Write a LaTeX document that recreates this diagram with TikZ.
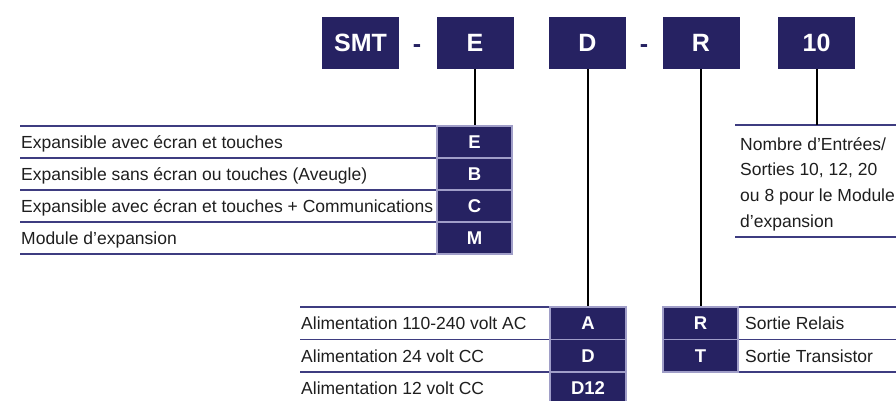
\documentclass[tikz,border=0pt]{standalone}
\usepackage{fontspec}
\setmainfont{Liberation Sans}
\definecolor{navy}{RGB}{38,34,98}
\definecolor{rulec}{RGB}{62,60,128}
\definecolor{lav}{RGB}{160,158,200}
\definecolor{txt}{RGB}{30,30,30}
\tikzset{
  topbox/.style={fill=navy, text=white, minimum width=77pt, minimum height=52pt, inner sep=0pt,
    font=\fontsize{25}{25}\selectfont\bfseries, text height=17.9pt, text depth=0pt},
  cell/.style={fill=navy, draw=lav, line width=1.2pt, text=white, minimum width=75pt,
    minimum height=32pt, inner sep=0pt, font=\fontsize{18.5}{18.5}\selectfont\bfseries,
    text height=13.2pt, text depth=0pt},
  lbl/.style={anchor=base west, inner sep=0pt, text=txt, font=\fontsize{17.5}{21}\selectfont},
  dashlbl/.style={anchor=base, inner sep=0pt, text=navy, font=\fontsize{25}{25}\selectfont\bfseries},
  rowline/.style={draw=rulec, line width=1.2pt},
  conn/.style={draw=black, line width=2pt},
}
\begin{document}
\begin{tikzpicture}[x=1pt,y=-1pt]
\useasboundingbox (0,0) rectangle (896,400);
% top code boxes
\node[topbox] (tSMT) at (360.5,43) {SMT};
\node[dashlbl] (d1) at (417,52) {-};
\node[topbox] (tE) at (475,43) {E};
\node[topbox] (tD) at (587.5,43) {D};
\node[dashlbl] (d2) at (644,52) {-};
\node[topbox] (tR) at (701,43) {R};
\node[topbox] (t10) at (816.5,43) {10};

% left table
\foreach \y in {126,158,190,222,254} \draw[rowline] (20,\y) -- (437,\y);
\node[cell] (cE) at (474.5,142) {E};
\node[cell] (cB) at (474.5,174) {B};
\node[cell] (cC) at (474.5,206) {C};
\node[cell] (cM) at (474.5,238) {M};
\node[lbl] (lE) at (21,148.3) {Expansible avec écran et touches};
\node[lbl] (lB) at (21,180.3) {Expansible sans écran ou touches (Aveugle)};
\node[lbl] (lC) at (21,212.3) {Expansible avec écran et touches + Communications};
\node[lbl] (lM) at (21,244.3) {Module d’expansion};

% right text block
\draw[rowline] (735,125) -- (896,125);
\draw[rowline] (735,237) -- (896,237);
\node[lbl] (n1) at (740,150) {Nombre d’Entrées/};
\node[lbl] (n2) at (740,175.7) {Sorties 10, 12, 20};
\node[lbl] (n3) at (740,201.4) {ou 8 pour le Module};
\node[lbl] (n4) at (740,227) {d’expansion};
\coordinate (tb) at (816.5,125);

% bottom left table
\foreach \y in {307,339.5,372} \draw[rowline] (300,\y) -- (550,\y);
\node[cell, minimum width=76pt, minimum height=32.5pt] (cA) at (588,323.25) {A};
\node[cell, minimum width=76pt, minimum height=32.5pt] (cD) at (588,355.75) {D};
\node[cell, minimum width=76pt, minimum height=32.5pt] (cD12) at (588,388.25) {D12};
\node[lbl] (lA) at (301,329.5) {Alimentation 110-240 volt AC};
\node[lbl] (lD) at (301,362) {Alimentation 24 volt CC};
\node[lbl] (lD12) at (301,394.5) {Alimentation 12 volt CC};

% bottom right table
\foreach \y in {307,339.5,372} \draw[rowline] (738,\y) -- (896,\y);
\node[cell, minimum height=32.5pt] (cR) at (700.5,323.25) {R};
\node[cell, minimum height=32.5pt] (cT) at (700.5,355.75) {T};
\node[lbl] (lR) at (745,329.5) {Sortie Relais};
\node[lbl] (lT) at (745,362) {Sortie Transistor};

% connectors
\draw[conn] (tE.south) -- (tE.south |- cE.north);
\draw[conn] (tD.south) -- (tD.south |- cA.north);
\draw[conn] (tR.south) -- (tR.south |- cR.north);
\draw[conn] (t10.south) -- (tb);
\end{tikzpicture}
\end{document}
